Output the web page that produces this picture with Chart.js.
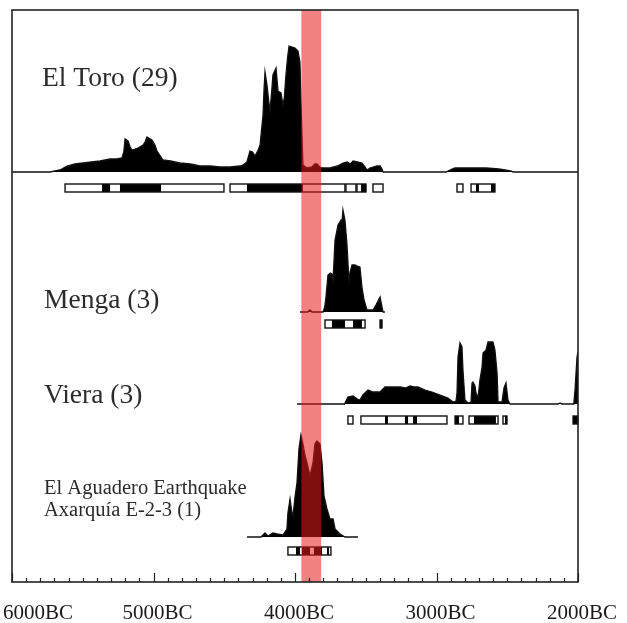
<!DOCTYPE html>
<html lang="en">
<head>
    <meta charset="UTF-8">
    <title>Summed probabilities</title>
    <script src="https://cdn.jsdelivr.net/npm/chart.js@4.4.0/dist/chart.umd.min.js"></script>
    <style>
        body {
            margin: 0;
            background: #fff;
            overflow: hidden;
        }
        #chart {
            display: block;
        }
    </style>
</head>
<body>
    <canvas id="chart" width="627" height="623"></canvas>

    <script>
        // calendar years BC, heights = relative probability
        const elToroYears = [6000, 5731, 5661, 5611, 5555, 5498, 5440, 5378, 5307, 5260, 5223, 5210, 5201, 5180, 5165, 5152, 5130, 5110, 5074, 5060, 5046, 5011, 4990, 4975, 4933, 4880, 4813, 4740, 4671, 4600, 4530, 4460, 4389, 4368, 4340, 4318, 4300, 4283, 4260, 4247, 4226, 4218, 4212, 4198, 4185, 4177, 4165, 4156, 4134, 4120, 4099, 4085, 4075, 4064, 4052, 4042, 4020, 4000, 3979, 3965, 3958, 3944, 3915, 3880, 3860, 3845, 3825, 3809, 3753, 3700, 3661, 3630, 3610, 3590, 3560, 3527, 3505, 3491, 3470, 3449, 3420, 3399, 3385, 3378, 2930, 2919, 2890, 2869, 2750, 2650, 2560, 2516, 2470, 2459, 2000];
        const elToroProb  = [0, 0, 2, 6, 8, 9, 10, 11, 13, 13, 14, 20, 33, 31, 25, 22, 23, 24, 27, 30, 35, 32, 27, 21, 12, 11, 9, 8, 6, 6, 5, 5, 6, 7, 10, 21, 20, 16, 22, 27, 57, 85, 100, 87, 70, 61, 80, 97, 104, 81, 79, 67, 75, 97, 115, 126, 125, 124, 121, 110, 71, 7, 4, 5, 8, 8, 5, 4, 4, 6, 9, 10, 8, 11, 10, 9, 5, 2, 4, 5, 6, 6, 3, 0, 0, 1, 3, 4, 4, 4, 3, 2, 1, 0, 0];

        const mengaYears = [3965, 3910, 3894, 3880, 3802, 3790, 3781, 3767, 3750, 3739, 3731, 3717, 3696, 3675, 3668, 3661, 3647, 3633, 3619, 3610, 3597, 3576, 3560, 3541, 3527, 3512, 3491, 3449, 3428, 3399, 3385, 3378, 3364];
        const mengaProb  = [0, 0, 2, 0, 0, 5, 15, 37, 39, 38, 32, 72, 87, 92, 90, 102, 92, 68, 32, 40, 47, 47, 46, 45, 25, 12, 2, 2, 7, 15, 5, 0, 0];

        const vieraYears = [3986, 3650, 3626, 3590, 3560, 3541, 3520, 3484, 3449, 3399, 3364, 3315, 3258, 3220, 3187, 3160, 3131, 3081, 3032, 2975, 2919, 2883, 2862, 2855, 2848, 2834, 2820, 2813, 2799, 2777, 2756, 2749, 2742, 2728, 2721, 2707, 2693, 2678, 2671, 2650, 2636, 2601, 2587, 2572, 2565, 2537, 2523, 2509, 2495, 2481, 2140, 2127, 2115, 2030, 2021, 2007, 2000];
        const vieraProb  = [0, 0, 7, 8, 5, 4, 9, 14, 12, 12, 17, 17, 17, 16, 18, 17, 17, 14, 12, 9, 6, 2, 3, 11, 47, 61, 57, 34, 4, 1, 2, 21, 22, 18, 11, 6, 24, 37, 51, 54, 62, 62, 54, 31, 2, 2, 16, 21, 4, 0, 0, 1, 0, 0, 14, 47, 52];

        const aguaderoYears = [4339, 4240, 4233, 4212, 4191, 4156, 4127, 4085, 4057, 4050, 4035, 4021, 4014, 4000, 3986, 3972, 3958, 3944, 3930, 3915, 3894, 3873, 3859, 3845, 3823, 3809, 3795, 3774, 3753, 3731, 3717, 3682, 3647, 3555];
        const aguaderoProb  = [0, 0, 1, 4, 1, 4, 3, 2, 8, 24, 38, 24, 21, 40, 54, 88, 102, 93, 82, 74, 61, 74, 93, 96, 93, 74, 41, 28, 18, 18, 8, 3, 0, 0];

        // highest posterior density ranges [from, to] BC
        const elToro95 = [[5625, 4502], [4459, 3647], [3640, 3569], [3562, 3498], [3449, 3378], [2855, 2813], [2756, 2587]];
        const elToro68 = [[5364, 5307], [5237, 4947], [4339, 3944], [3534, 3498], [2721, 2700], [2615, 2587]];
        const menga95 = [[3788, 3505], [3399, 3385]];
        const menga68 = [[3739, 3647], [3590, 3527], [3399, 3385]];
        const viera95 = [[3626, 3590], [3534, 2926], [2869, 2813], [2770, 2565], [2530, 2502], [2035, 2000]];
        const viera68 = [[3364, 3343], [3223, 3201], [3166, 3138], [2869, 2841], [2735, 2580], [2516, 2502], [2035, 2000]];
        const aguadero95 = [[4050, 3746]];
        const aguadero68 = [[3993, 3965], [3951, 3894], [3866, 3809], [3774, 3760]];

        const earthquake = [3955, 3815];
        const tickLabels = ['6000BC', '5000BC', '4000BC', '3000BC', '2000BC'];
        const tickYears = [6000, 5000, 4000, 3000, 2000];

        // rows: baseline in y units (1 unit = 1px of plot height)
        const rows = [
            { years: elToroYears, prob: elToroProb, r95: elToro95, r68: elToro68, base: 410, barGap: 12,
              text: ['El Toro (29)'], tx: 42, ty: [86], size: 27.5 },
            { years: mengaYears, prob: mengaProb, r95: menga95, r68: menga68, base: 270, barGap: 8,
              text: ['Menga (3)'], tx: 44, ty: [308], size: 27.5 },
            { years: vieraYears, prob: vieraProb, r95: viera95, r68: viera68, base: 178, barGap: 12,
              text: ['Viera (3)'], tx: 44, ty: [403], size: 27.5 },
            { years: aguaderoYears, prob: aguaderoProb, r95: aguadero95, r68: aguadero68, base: 45, barGap: 10,
              text: ['El Aguadero Earthquake', 'Axarquía E-2-3 (1)'], tx: 44, ty: [494, 516], size: 20.5 }
        ];

        const overlay = {
            id: 'overlay',
            beforeDraw(chart) {
                const ctx = chart.ctx;
                ctx.save();
                ctx.fillStyle = '#fff';
                ctx.fillRect(0, 0, chart.width, chart.height);
                ctx.restore();
            },
            afterDatasetsDraw(chart) {
                const { ctx, chartArea: a, scales: { x, y } } = chart;
                ctx.save();

                // range bars
                rows.forEach(r => {
                    const top = y.getPixelForValue(r.base) + r.barGap;
                    const h = 8;
                    ctx.lineWidth = 1.4;
                    ctx.strokeStyle = '#111';
                    r.r95.forEach(([a0, a1]) => {
                        const x0 = x.getPixelForValue(a0), x1 = x.getPixelForValue(a1);
                        ctx.fillStyle = '#fff';
                        ctx.fillRect(x0, top, x1 - x0, h);
                    });
                    ctx.fillStyle = '#000';
                    r.r68.forEach(([a0, a1]) => {
                        const x0 = x.getPixelForValue(a0), x1 = x.getPixelForValue(a1);
                        ctx.fillRect(x0, top, x1 - x0, h);
                    });
                    r.r95.forEach(([a0, a1]) => {
                        const x0 = x.getPixelForValue(a0), x1 = x.getPixelForValue(a1);
                        ctx.strokeRect(x0, top, x1 - x0, h);
                    });
                });

                // earthquake band
                const bx0 = x.getPixelForValue(earthquake[0]);
                const bx1 = x.getPixelForValue(earthquake[1]);
                ctx.fillStyle = 'rgba(230, 28, 28, 0.55)';
                ctx.fillRect(bx0, a.top, bx1 - bx0, a.bottom - a.top);

                // frame
                ctx.strokeStyle = '#222';
                ctx.lineWidth = 1.6;
                ctx.strokeRect(a.left, a.top, a.right - a.left, a.bottom - a.top);

                // inward ticks
                ctx.lineWidth = 1.2;
                ctx.beginPath();
                for (let yr = 6000; yr >= 2000; yr -= 100) {
                    const px = Math.round(x.getPixelForValue(yr)) + 0.5;
                    const len = yr % 1000 === 0 ? 9 : 4;
                    ctx.moveTo(px, a.bottom);
                    ctx.lineTo(px, a.bottom - len);
                }
                ctx.stroke();

                // tick labels
                ctx.font = '21px "Liberation Serif", "DejaVu Serif", serif';
                ctx.fillStyle = '#1a1a1a';
                ctx.textBaseline = 'alphabetic';
                ctx.textAlign = 'left';
                tickLabels.forEach((t, i) => {
                    const w = ctx.measureText(t).width;
                    let lx = x.getPixelForValue(tickYears[i]) - w / 2 + 4;
                    lx = Math.max(3, Math.min(chart.width - 9 - w, lx));
                    ctx.fillText(t, lx, 619);
                });

                // row names
                ctx.fillStyle = '#2b2b2b';
                rows.forEach(r => {
                    ctx.font = r.size + 'px "Liberation Serif", "DejaVu Serif", serif';
                    r.text.forEach((t, i) => ctx.fillText(t, r.tx, r.ty[i]));
                });

                ctx.restore();
            }
        };

        const datasets = rows.map(r => ({
            data: r.years.map((yr, i) => ({ x: yr, y: r.base + r.prob[i] })),
            borderColor: '#111',
            borderWidth: 1.3,
            backgroundColor: '#000',
            fill: { value: r.base },
            pointRadius: 0,
            tension: 0
        }));

        new Chart(document.getElementById('chart'), {
            type: 'line',
            data: { datasets: datasets },
            options: {
                responsive: false,
                animation: false,
                layout: { padding: { left: 12, right: 49, top: 10, bottom: 41 } },
                scales: {
                    x: { type: 'linear', reverse: true, min: 2000, max: 6000, display: false },
                    y: { min: 0, max: 572, display: false }
                },
                plugins: {
                    legend: { display: false },
                    tooltip: { enabled: false }
                }
            },
            plugins: [overlay]
        });
    </script>
</body>
</html>
